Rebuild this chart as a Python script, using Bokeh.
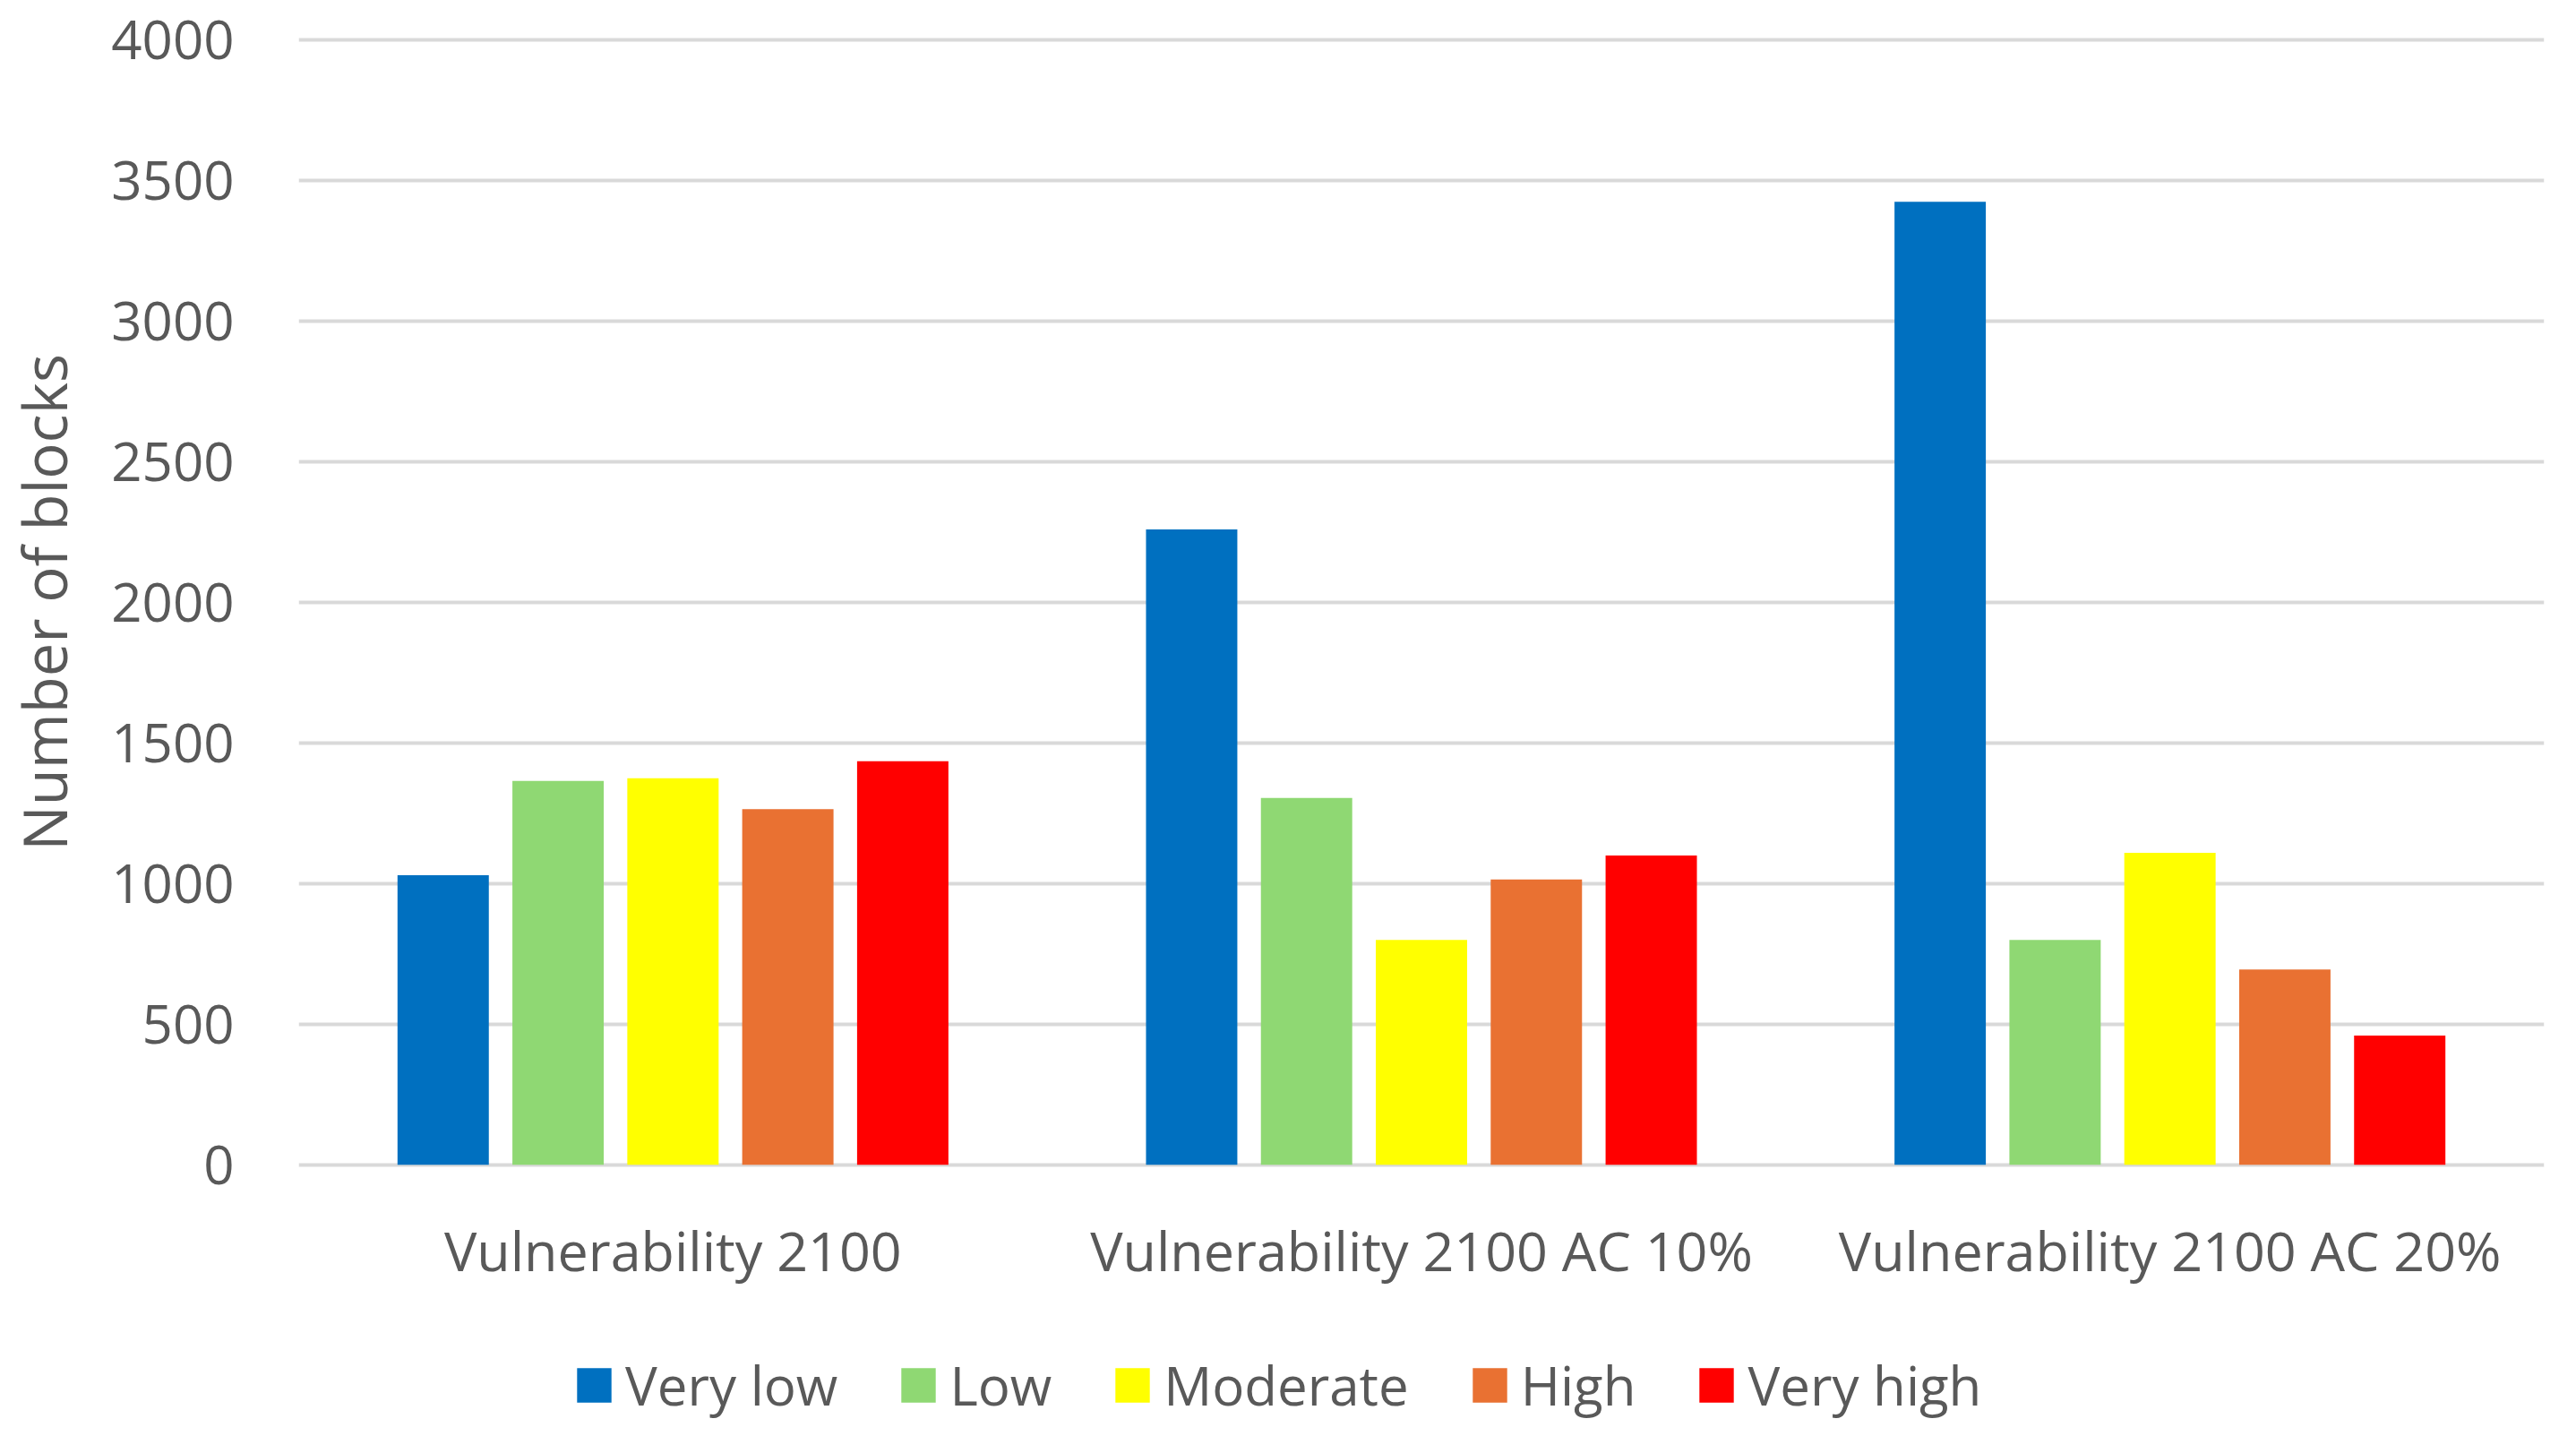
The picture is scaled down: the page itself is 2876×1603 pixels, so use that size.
from bokeh.plotting import figure
from bokeh.layouts import column
from bokeh.models import ColumnDataSource, Range1d, FixedTicker, Legend, LegendItem
from bokeh.transform import dodge
from bokeh.embed import file_html
from bokeh.resources import INLINE

groups = ["Vulnerability 2100", "Vulnerability 2100 AC 10%", "Vulnerability 2100 AC 20%"]
series = ["Very low", "Low", "Moderate", "High", "Very high"]
very_low = [1030, 2260, 3425]
low = [1365, 1305, 800]
moderate = [1375, 800, 1110]
high = [1265, 1015, 695]
very_high = [1435, 1100, 460]
y_ticks = [0, 500, 1000, 1500, 2000, 2500, 3000, 3500, 4000]
colors = ["#0070C0", "#8FD873", "#FFFF00", "#E97132", "#FF0000"]

src = ColumnDataSource(dict(group=groups, very_low=very_low, low=low,
                            moderate=moderate, high=high, very_high=very_high))
cols = ["very_low", "low", "moderate", "high", "very_high"]

FONT = "Open Sans"
TXT = "#595959"

p = figure(x_range=groups, y_range=Range1d(-10, 4010), width=2860, height=1440,
           output_backend="svg", toolbar_location=None,
           min_border_left=317, min_border_right=20, min_border_top=41, min_border_bottom=137)
p.outline_line_color = None
p.xgrid.grid_line_color = None
p.ygrid.grid_line_color = "#D9D9D9"
p.ygrid.grid_line_width = 4

step = 0.1535
bw = 0.122
for k, c in enumerate(cols):
    p.vbar(x=dodge("group", (k - 2) * step, range=p.x_range), top=c, width=bw,
           source=src, fill_color=colors[k], line_color=None)

p.yaxis.ticker = FixedTicker(ticks=y_ticks)
for ax in (p.xaxis, p.yaxis):
    ax.axis_line_color = None
    ax.major_tick_line_color = None
    ax.minor_tick_line_color = None
    ax.major_label_text_font = FONT
    ax.major_label_text_color = TXT
    ax.major_label_text_font_size = "60px"
p.xaxis.major_label_text_font_size = "61px"
p.yaxis.major_label_standoff = 66
p.xaxis.major_label_standoff = 44
p.yaxis.axis_label = "Number of blocks"
p.yaxis.axis_label_text_font = FONT
p.yaxis.axis_label_text_font_style = "normal"
p.yaxis.axis_label_text_color = TXT
p.yaxis.axis_label_text_font_size = "67px"
p.yaxis.axis_label_standoff = 26

# legend strip below the chart (swatch renderers sit outside the visible range)
lg = figure(width=2860, height=147, x_range=Range1d(0, 1), y_range=Range1d(0, 1),
            output_backend="svg", toolbar_location=None, min_border=0)
lg.outline_line_color = None
lg.axis.visible = False
lg.grid.visible = False
items = []
for s, col in zip(series, colors):
    r = lg.vbar(x=[-5], top=[-5], bottom=[-6], width=0.1, fill_color=col, line_color=None)
    items.append(LegendItem(label=s, renderers=[r]))
legend = Legend(items=items, orientation="horizontal", location=(306, 0),
                glyph_width=48, glyph_height=48, label_standoff=11, spacing=66,
                label_text_font=FONT, label_text_color=TXT, label_text_font_size="60px",
                border_line_color=None, background_fill_alpha=0, padding=0, margin=0)
lg.add_layout(legend, "center")

open("out.html", "w").write(file_html(column(p, lg, spacing=0), INLINE))
